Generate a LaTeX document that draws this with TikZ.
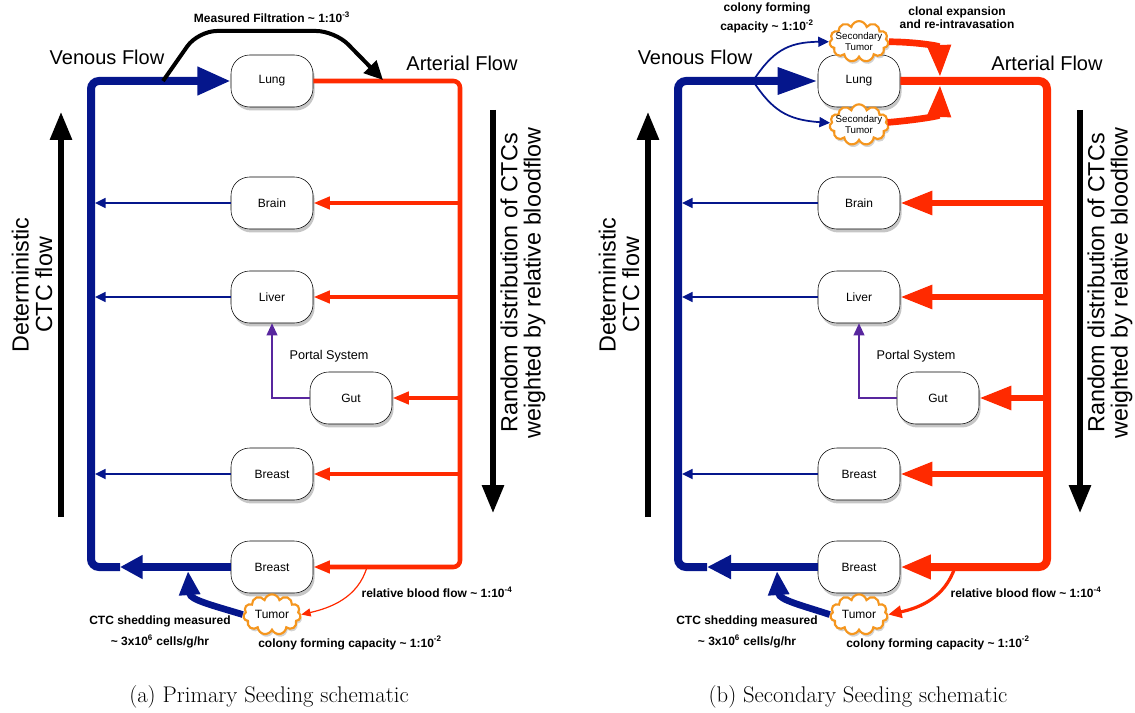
\documentclass[tikz,border=0pt]{standalone}
\usepackage{fontspec}
\newfontfamily\arial{Liberation Sans}
\usetikzlibrary{arrows.meta, positioning, shapes.symbols, shadows}

\definecolor{venblue}{RGB}{5,22,140}
\definecolor{artred}{RGB}{255,42,0}
\definecolor{portalpurple}{RGB}{88,38,158}
\definecolor{tumororange}{RGB}{245,150,30}

\tikzset{
  organ/.style={draw, fill=white, rounded corners=14pt, minimum width=61.5pt, minimum height=39pt,
    font=\arial\fontsize{9}{11}\selectfont, drop shadow={shadow xshift=1.2pt, shadow yshift=-2.6pt, opacity=0.45}},
  tumorcloud/.style={cloud, cloud puffs=11, aspect=1.75, draw=tumororange, line width=1.6pt, fill=white,
    inner sep=1.2pt, font=\arial\fontsize{9}{11}\selectfont,
    drop shadow={shadow xshift=1pt, shadow yshift=-2pt, opacity=0.35}},
  sectumor/.style={tumorcloud, aspect=1.8, inner sep=-3pt, align=center,
    font=\arial\fontsize{7.3}{8.5}\selectfont},
  vein/.style={draw=venblue, line width=6pt},
  venthin/.style={draw=venblue, line width=1.3pt, -{Triangle[length=8pt,width=7.5pt]}},
  artery/.style={draw=artred, line width=3.4pt},
  artbranch/.style={artery, -{Triangle[length=12.5pt,width=9pt]}},
  arteryb/.style={draw=artred, line width=6pt},
  artbranchb/.style={arteryb, line width=5pt, -{Triangle[length=24pt,width=17pt]}},
  portal/.style={draw=portalpurple, line width=1.3pt, -{Triangle[length=9pt,width=8pt]}},
  flowarrow/.style={draw=black, line width=3.8pt, -{Triangle[length=21pt,width=16pt]}},
  filtration/.style={draw=black, line width=3pt, -{Triangle[length=14pt,width=13pt]}},
  biglabel/.style={font=\arial\fontsize{15}{18}\selectfont},
  sidelabel/.style={rotate=90, align=center, font=\arial\fontsize{17.5}{17.5}\selectfont},
  note/.style={font=\arial\bfseries\fontsize{9}{15.75}\selectfont, align=center},
  smalllabel/.style={font=\arial\fontsize{9.5}{11}\selectfont},
  caption/.style={font=\fontsize{17}{20}\selectfont}
}

\begin{document}
\begin{tikzpicture}[x=0.75pt, y=-0.75pt]
\useasboundingbox (0,0) rectangle (1135,713);

% ---- (a) primary seeding ----
\begin{scope}
  \node[organ] (a-lung) at (272,81) {Lung};
  \node[organ] (a-brain) at (272,203) {Brain};
  \node[organ] (a-liver) at (272,297) {Liver};
  \node[organ] (a-gut) at (351,398) {Gut};
  \node[organ] (a-breast) at (272,474) {Breast};
  \node[organ] (a-breast2) at (272,567) {Breast};
  \node[tumorcloud, below=0pt of a-breast2] (a-tumor) {Tumor};

  \coordinate (a-vtl) at (91,81);
  \coordinate (a-vbl) at (91,567);
  \coordinate (a-vin) at (95,300);
  \coordinate (a-vhead) at (120,567);
  \coordinate (a-atr) at (460,81);
  \coordinate (a-abr) at (460,567);
  \coordinate (a-shed) at (188,571);
  \coordinate (a-tap) at (367,567);
  \coordinate (a-fs) at (163,81);
  \coordinate (a-fe) at (383,80);
  \coordinate (a-up0) at (61,517);
  \coordinate (a-up1) at (61,112);
  \coordinate (a-dn0) at (493,110);
  \coordinate (a-dn1) at (493,513);

  % venous
  \draw[vein, -{Triangle[length=17pt,width=17pt]}] (a-breast2) -- (a-vhead);
  \draw[vein, rounded corners=6pt, -{Triangle[length=25pt,width=20pt]}] (a-vhead) -- (a-vbl) -- (a-vtl) -- (a-lung);
  \draw[venthin] (a-brain) -- (a-brain -| a-vin);
  \draw[venthin] (a-liver) -- (a-liver -| a-vin);
  \draw[venthin] (a-breast) -- (a-breast -| a-vin);
  \draw[vein, line width=5pt, -{Triangle[length=18pt,width=15pt]}] (a-tumor.west) .. controls (215,606) and (190,600) .. (a-shed);

  % arterial
  \draw[artery, rounded corners=5pt, -{Triangle[length=12.5pt,width=9pt]}] (a-lung) -- (a-atr) -- (a-abr) -- (a-breast2);
  \draw[artbranch] (a-atr |- a-brain) -- (a-brain);
  \draw[artbranch] (a-atr |- a-liver) -- (a-liver);
  \draw[artbranch] (a-atr |- a-gut) -- (a-gut);
  \draw[artbranch] (a-atr |- a-breast) -- (a-breast);
  \draw[draw=artred, line width=0.9pt, -{Triangle[length=7pt,width=6pt]}] (a-tap) .. controls (358,598) and (330,608) .. (a-tumor.east);

  \draw[portal] (a-gut) -| (a-liver);
  \draw[filtration, rounded corners=14pt] (a-fs) -- (198,31) -- (335,31) -- (a-fe);
  \draw[flowarrow] (a-up0) -- (a-up1);
  \draw[flowarrow] (a-dn0) -- (a-dn1);

  % labels
  \node[biglabel] (a-venous) at (107,57) {Venous Flow};
  \node[biglabel] (a-arterial) at (462,63) {Arterial Flow};
  \node[note] (a-filt) at (272,17) {Measured Filtration \textasciitilde{} 1:10\textsuperscript{-3}};
  \node[sidelabel] (a-det) at (32,285) {Deterministic\\CTC flow};
  \node[sidelabel] (a-rand) at (523,283) {Random distribution of CTCs\\weighted by relative bloodflow};
  \node[smalllabel] (a-portal) at (329,356) {Portal System};
  \node[note] (a-shedding) at (160,632) {CTC shedding measured\\\textasciitilde{} 3x10\textsuperscript{6} cells/g/hr};
  \node[note] (a-rel) at (437,592) {relative blood flow \textasciitilde{} 1:10\textsuperscript{-4}};
  \node[note] (a-cfc) at (350,643) {colony forming capacity \textasciitilde{} 1:10\textsuperscript{-2}};
  \node[caption] (a-cap) at (269,697) {(a) Primary Seeding schematic};
\end{scope}

% ---- (b) secondary seeding ----
\begin{scope}[xshift=440.25pt]
  \node[organ] (b-lung) at (272,81) {Lung};
  \node[organ] (b-brain) at (272,203) {Brain};
  \node[organ] (b-liver) at (272,297) {Liver};
  \node[organ] (b-gut) at (351,398) {Gut};
  \node[organ] (b-breast) at (272,474) {Breast};
  \node[organ] (b-breast2) at (272,567) {Breast};
  \node[tumorcloud, below=0pt of b-breast2] (b-tumor) {Tumor};
  \node[sectumor, above=-3pt of b-lung] (b-st1) {Secondary\\Tumor};
  \node[sectumor, below=-3pt of b-lung] (b-st2) {Secondary\\Tumor};

  \coordinate (b-vtl) at (91,81);
  \coordinate (b-vbl) at (91,567);
  \coordinate (b-vin) at (95,300);
  \coordinate (b-vhead) at (120,567);
  \coordinate (b-split) at (166,81);
  \coordinate (b-atr) at (460,81);
  \coordinate (b-abr) at (460,567);
  \coordinate (b-join1) at (353,77);
  \coordinate (b-join2) at (353,85);
  \coordinate (b-shed) at (190,571);
  \coordinate (b-tap) at (368,567);
  \coordinate (b-up0) at (61,517);
  \coordinate (b-up1) at (61,112);
  \coordinate (b-dn0) at (493,110);
  \coordinate (b-dn1) at (493,513);

  % venous
  \draw[vein, -{Triangle[length=18pt,width=17pt]}] (b-breast2) -- (b-vhead);
  \draw[vein, rounded corners=6pt, -{Triangle[length=30pt,width=19pt]}] (b-vhead) -- (b-vbl) -- (b-vtl) -- (b-lung);
  \draw[venthin] (b-split) .. controls (185,52) and (200,42) .. (b-st1);
  \draw[venthin] (b-split) .. controls (185,110) and (200,120) .. (b-st2);
  \draw[venthin] (b-brain) -- (b-brain -| b-vin);
  \draw[venthin] (b-liver) -- (b-liver -| b-vin);
  \draw[venthin] (b-breast) -- (b-breast -| b-vin);
  \draw[vein, line width=5pt, -{Triangle[length=18pt,width=15pt]}] (b-tumor.west) .. controls (217,606) and (192,600) .. (b-shed);

  % arterial
  \draw[arteryb, rounded corners=6pt, -{Triangle[length=23pt,width=17pt]}] (b-lung) -- (b-atr) -- (b-abr) -- (b-breast2);
  \draw[artbranchb] (b-atr |- b-brain) -- (b-brain);
  \draw[artbranchb] (b-atr |- b-liver) -- (b-liver);
  \draw[artbranchb] (b-atr |- b-gut) -- (b-gut);
  \draw[artbranchb] (b-atr |- b-breast) -- (b-breast);
  \draw[artbranchb] (b-st1) .. controls (330,42) and (352,46) .. (b-join1);
  \draw[artbranchb] (b-st2) .. controls (330,120) and (352,116) .. (b-join2);
  \draw[draw=artred, line width=2.4pt, -{Triangle[length=10pt,width=9pt]}] (b-tap) .. controls (358,598) and (332,608) .. (b-tumor.east);

  \draw[portal] (b-gut) -| (b-liver);
  \draw[flowarrow] (b-up0) -- (b-up1);
  \draw[flowarrow] (b-dn0) -- (b-dn1);

  % labels
  \node[biglabel] (b-venous) at (108,57) {Venous Flow};
  \node[biglabel] (b-arterial) at (460,63) {Arterial Flow};
  \node[note, font=\arial\bfseries\fontsize{9}{14}\selectfont] (b-colony) at (180,18) {colony forming\\capacity \textasciitilde{} 1:10\textsuperscript{-2}};
  \node[note, font=\arial\bfseries\fontsize{9}{10}\selectfont] (b-clonal) at (370,18) {clonal expansion\\and re-intravasation};
  \node[sidelabel] (b-det) at (32,285) {Deterministic\\CTC flow};
  \node[sidelabel] (b-rand) at (523,283) {Random distribution of CTCs\\weighted by relative bloodflow};
  \node[smalllabel] (b-portal) at (329,356) {Portal System};
  \node[note] (b-shedding) at (160,632) {CTC shedding measured\\\textasciitilde{} 3x10\textsuperscript{6} cells/g/hr};
  \node[note] (b-rel) at (439,592) {relative blood flow \textasciitilde{} 1:10\textsuperscript{-4}};
  \node[note] (b-cfc) at (351,643) {colony forming capacity \textasciitilde{} 1:10\textsuperscript{-2}};
  \node[caption] (b-cap) at (271,697) {(b) Secondary Seeding schematic};
\end{scope}
\end{tikzpicture}
\end{document}
